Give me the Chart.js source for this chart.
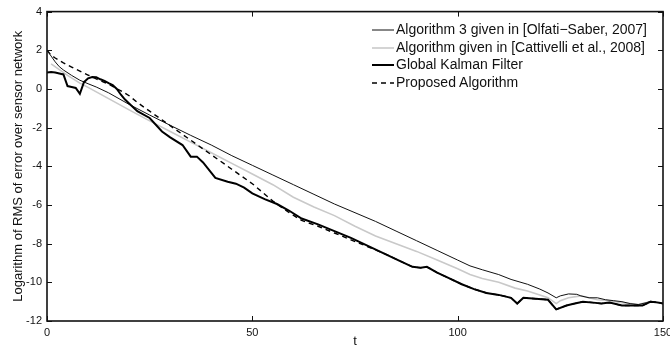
<!DOCTYPE html>
<html>
<head>
<meta charset="utf-8">
<script src="https://cdn.jsdelivr.net/npm/chart.js@4.4.0/dist/chart.umd.min.js"></script>
<style>
  html, body { margin: 0; padding: 0; background: #fff; overflow: hidden; }
  #wrap { position: relative; width: 670px; height: 352px; }
  #legend { position: absolute; left: 372px; top: 21px; font: 14px "Liberation Sans", Arial, sans-serif; color: #111; }
  #legend .row { height: 17.7px; line-height: 17.7px; white-space: nowrap; display: flex; align-items: center; }
  #legend svg { margin-right: 2px; }
</style>
</head>
<body>
<div id="wrap">
  <canvas id="rmsChart" width="670" height="352"></canvas>
  <div id="legend"></div>
</div>
<script>
// values (t, log RMS error)
const olfatiT = [0, 1, 2, 3, 4, 6, 8, 10, 12, 15, 20, 25, 30, 35, 40, 45, 50, 55, 60, 65, 70, 75, 80, 85, 90, 95, 100, 103, 106, 110, 113, 117, 120, 122, 124, 125, 127, 129, 130, 132, 134, 136, 138, 140, 142, 144, 146, 147, 148, 150];
const olfati = [2.0, 1.7, 1.4, 1.15, 0.98, 0.7, 0.45, 0.27, 0.1, -0.2, -0.8, -1.35, -1.88, -2.4, -2.9, -3.45, -3.95, -4.45, -4.95, -5.45, -5.95, -6.4, -6.85, -7.35, -7.85, -8.35, -8.85, -9.15, -9.35, -9.6, -9.85, -10.1, -10.35, -10.55, -10.8, -10.7, -10.6, -10.62, -10.7, -10.8, -10.8, -10.9, -10.95, -11.0, -11.1, -11.15, -11.05, -10.98, -11.02, -11.1];

const cattT = [1, 3, 5, 8, 10, 15, 20, 25, 30, 35, 40, 45, 50, 55, 60, 65, 70, 75, 80, 85, 90, 95, 100, 103, 106, 110, 114, 117, 120, 122, 124, 125, 127, 130, 132, 134, 137, 140, 142, 144, 146, 147, 148, 150];
const catt = [1.3, 1.0, 0.7, 0.3, 0.08, -0.5, -1.08, -1.65, -2.2, -2.75, -3.3, -3.85, -4.4, -4.95, -5.6, -6.1, -6.55, -7.1, -7.6, -8.0, -8.4, -8.85, -9.3, -9.6, -9.8, -10.0, -10.3, -10.45, -10.65, -10.8, -11.1, -10.95, -10.8, -10.7, -10.8, -10.9, -10.95, -11.05, -11.1, -11.15, -11.05, -10.98, -11.02, -11.1];

const kalmanT = [0, 1, 2, 3, 4, 5, 6, 7, 8, 9, 10, 11, 12, 13, 14, 15, 16, 17, 18, 19, 20, 22, 25, 28, 30, 33, 35, 36.5, 38, 41, 44, 46, 48, 50, 53, 56, 59, 62, 66, 70, 74, 78, 82, 86, 89, 91, 92.5, 95, 98, 101, 104, 107, 110, 113, 114.5, 116, 119, 122, 124, 126.5, 128.5, 130.5, 133, 135, 137, 140, 143, 145, 147, 149, 150];
const kalman = [0.85, 0.88, 0.85, 0.8, 0.75, 0.15, 0.1, 0.05, -0.25, 0.35, 0.55, 0.62, 0.6, 0.5, 0.42, 0.3, 0.2, 0.0, -0.3, -0.55, -0.75, -1.15, -1.5, -2.2, -2.5, -2.9, -3.5, -3.5, -3.8, -4.6, -4.8, -4.9, -5.1, -5.4, -5.7, -5.95, -6.3, -6.7, -7.0, -7.35, -7.7, -8.1, -8.5, -8.9, -9.2, -9.25, -9.2, -9.5, -9.8, -10.1, -10.35, -10.55, -10.65, -10.8, -11.1, -10.8, -10.85, -10.9, -11.4, -11.2, -11.1, -11.0, -11.05, -11.1, -11.05, -11.2, -11.2, -11.2, -11.0, -11.05, -11.1];

const proposedT = [0, 1, 2, 4, 6, 8, 10, 12, 15, 18, 20, 22, 25, 28, 31, 35, 40, 45, 50, 55, 59, 62, 66, 70, 74, 78, 82, 86, 89, 91, 92.5, 95, 98, 101, 104, 107, 110, 113, 114.5, 116, 119, 122, 124, 126.5, 128.5, 130.5, 133, 135, 137, 140, 143, 145, 147, 149, 150];
const proposed = [2.0, 1.75, 1.6, 1.35, 1.13, 0.92, 0.72, 0.52, 0.25, -0.1, -0.35, -0.7, -1.15, -1.6, -2.05, -2.65, -3.4, -4.15, -4.9, -5.8, -6.4, -6.8, -7.1, -7.45, -7.8, -8.15, -8.5, -8.9, -9.2, -9.25, -9.2, -9.5, -9.8, -10.1, -10.35, -10.55, -10.65, -10.8, -11.1, -10.8, -10.85, -10.9, -11.4, -11.2, -11.1, -11.0, -11.05, -11.1, -11.05, -11.2, -11.2, -11.2, -11.0, -11.05, -11.1];

const seriesLabels = [
  'Algorithm 3 given in [Olfati\u2212Saber, 2007]',
  'Algorithm given in [Cattivelli et al., 2008]',
  'Global Kalman Filter',
  'Proposed Algorithm'
];
const xTicks = [0, 50, 100, 150];
const yTicks = [-12, -10, -8, -6, -4, -2, 0, 2, 4];

const pts = (ts, vs) => ts.map((t, i) => ({ x: t, y: vs[i] }));
const FONT = '"Liberation Sans", Arial, sans-serif';

// MATLAB style box with inward ticks
const framePlugin = {
  id: 'frame',
  afterDraw(chart) {
    const { ctx, chartArea: a, scales: { x, y } } = chart;
    ctx.save();
    ctx.strokeStyle = '#111';
    ctx.lineWidth = 1;
    ctx.beginPath();
    x.ticks.forEach(t => {
      const px = Math.round(x.getPixelForValue(t.value)) + 0.5;
      ctx.moveTo(px, a.bottom); ctx.lineTo(px, a.bottom - 5);
      ctx.moveTo(px, a.top); ctx.lineTo(px, a.top + 5);
    });
    y.ticks.forEach(t => {
      const py = Math.round(y.getPixelForValue(t.value)) + 0.5;
      ctx.moveTo(a.left, py); ctx.lineTo(a.left + 5, py);
      ctx.moveTo(a.right, py); ctx.lineTo(a.right - 5, py);
    });
    ctx.stroke();
    ctx.lineWidth = 1.6;
    ctx.strokeRect(a.left, a.top, a.right - a.left, a.bottom - a.top);
    ctx.restore();
  }
};

const rmsChart = new Chart(document.getElementById('rmsChart'), {
  type: 'line',
  data: {
    datasets: [{
      label: seriesLabels[0],
      data: pts(olfatiT, olfati),
      borderColor: '#111',
      borderWidth: 1,
      order: 1
    }, {
      label: seriesLabels[1],
      data: pts(cattT, catt),
      borderColor: '#c9c9c9',
      borderWidth: 1.6,
      order: 3
    }, {
      label: seriesLabels[2],
      data: pts(kalmanT, kalman),
      borderColor: '#000',
      borderWidth: 2,
      order: 0
    }, {
      label: seriesLabels[3],
      data: pts(proposedT, proposed),
      borderColor: '#000',
      borderWidth: 1.4,
      borderDash: [5, 4],
      order: 2
    }]
  },
  options: {
    responsive: false,
    animation: false,
    layout: { padding: { top: 9, right: 7, left: 0, bottom: 0 } },
    elements: { point: { radius: 0 }, line: { tension: 0 } },
    plugins: { legend: { display: false }, tooltip: { enabled: false } },
    scales: {
      x: {
        type: 'linear',
        min: 0, max: 150,
        afterBuildTicks: s => { s.ticks = xTicks.map(v => ({ value: v })); },
        afterFit: s => { s.height = 31; s.paddingRight = 0; s.paddingLeft = 0; },
        grid: { display: false, drawTicks: false },
        border: { display: false },
        ticks: { padding: 5, color: '#111', font: { family: FONT, size: 11 }, maxRotation: 0 },
        title: { display: true, text: 't', color: '#111', font: { family: FONT, size: 13 }, padding: { top: 0, bottom: 3 } }
      },
      y: {
        min: -12, max: 4,
        afterBuildTicks: s => { s.ticks = yTicks.map(v => ({ value: v })); },
        afterFit: s => { s.width = 47; },
        grid: { display: false, drawTicks: false },
        border: { display: false },
        ticks: { padding: 5, color: '#111', font: { family: FONT, size: 11 } },
        title: { display: true, text: 'Logarithm of RMS of error over sensor network', color: '#111', font: { family: FONT, size: 13 }, padding: { top: 11, bottom: 0 } }
      }
    }
  },
  plugins: [framePlugin]
});

// legend drawn as html over the plot, from the dataset styles
const legendEl = document.getElementById('legend');
rmsChart.data.datasets.forEach(ds => {
  const row = document.createElement('div');
  row.className = 'row';
  const dash = ds.borderDash ? ds.borderDash.join(',') : 'none';
  row.innerHTML = '<svg width="22" height="6"><line x1="0" y1="3" x2="22" y2="3" stroke="' + ds.borderColor +
    '" stroke-width="' + ds.borderWidth + '" stroke-dasharray="' + dash + '"/></svg>';
  const span = document.createElement('span');
  span.textContent = ds.label;
  row.appendChild(span);
  legendEl.appendChild(row);
});
</script>
</body>
</html>
